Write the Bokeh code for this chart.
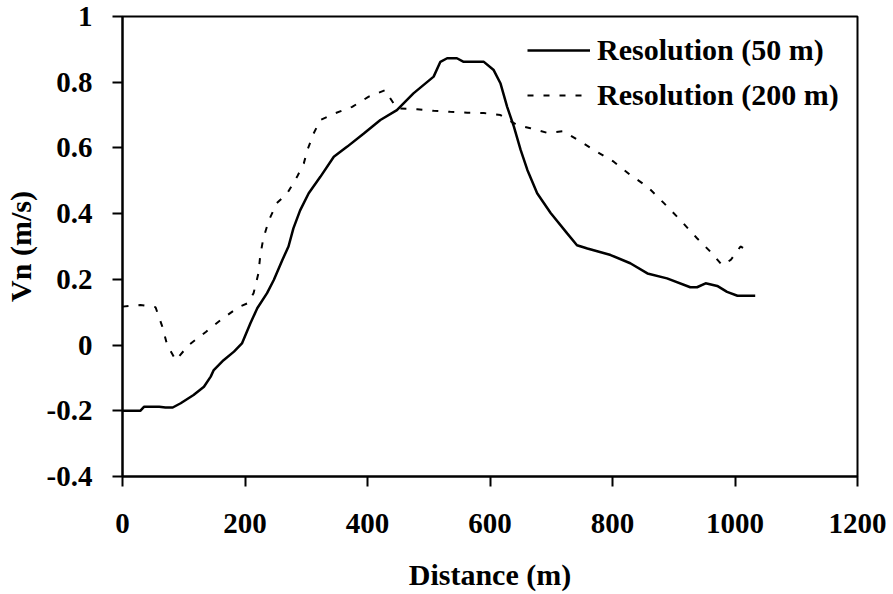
from bokeh.plotting import figure
from bokeh.models import Range1d, FixedTicker
from bokeh.embed import file_html
from bokeh.resources import INLINE

# Data
dist_50 = [0, 29, 35, 60, 70, 82, 95, 116, 133, 144, 149, 165, 182, 195, 209, 220,
           236, 247, 261, 271, 279, 290, 304, 323, 345, 367, 394, 421, 448, 475, 508,
           519, 530, 546, 557, 590, 606, 617, 628, 639, 650, 661, 677, 699, 726, 742,
           759, 797, 829, 857, 889, 927, 938, 952, 971, 987, 1004, 1033]
vn_50 = [-0.2, -0.2, -0.188, -0.188, -0.19, -0.19, -0.177, -0.152, -0.127, -0.096, -0.076,
         -0.046, -0.02, 0.005, 0.067, 0.112, 0.158, 0.198, 0.259, 0.3, 0.355, 0.41, 0.462,
         0.512, 0.573, 0.604, 0.644, 0.685, 0.715, 0.766, 0.817, 0.862, 0.873, 0.873,
         0.862, 0.862, 0.837, 0.797, 0.725, 0.665, 0.594, 0.533, 0.462, 0.402, 0.34,
         0.304, 0.294, 0.274, 0.249, 0.218, 0.203, 0.176, 0.176, 0.188, 0.18, 0.162,
         0.15, 0.15]

dist_200 = [0, 29, 54, 65, 73, 87, 108, 136, 160, 189, 204, 214, 222, 225, 230, 239, 252,
            269, 285, 296, 302, 312, 323, 348, 375, 402, 429, 434, 448, 481, 508, 535,
            563, 590, 617, 644, 666, 693, 720, 748, 775, 802, 829, 857, 884, 911, 938,
            960, 979, 993, 1009, 1014]
vn_200 = [0.117, 0.122, 0.115, 0.056, 0.0, -0.046, 0.0, 0.04, 0.076, 0.115, 0.127, 0.158,
          0.219, 0.274, 0.325, 0.38, 0.432, 0.462, 0.512, 0.553, 0.594, 0.644, 0.685,
          0.706, 0.725, 0.756, 0.776, 0.76, 0.72, 0.718, 0.713, 0.71, 0.707, 0.706, 0.7,
          0.67, 0.66, 0.646, 0.651, 0.619, 0.588, 0.558, 0.518, 0.482, 0.432, 0.38,
          0.325, 0.284, 0.243, 0.259, 0.3, 0.295]

x_ticks = [0, 200, 400, 600, 800, 1000, 1200]
y_ticks = [-0.4, -0.2, 0, 0.2, 0.4, 0.6, 0.8, 1]
y_tick_labels = ["-0.4", "-0.2", "0", "0.2", "0.4", "0.6", "0.8", "1"]

FONT = "Liberation Serif"

p = figure(width=893, height=594, output_backend="svg", toolbar_location=None,
           x_range=Range1d(0, 1200), y_range=Range1d(-0.4, 1))
p.min_border_left = 122
p.min_border_right = 36
p.min_border_top = 16
p.min_border_bottom = 118
p.background_fill_color = "white"
p.border_fill_color = "white"
p.outline_line_color = "black"
p.outline_line_width = 2
p.xgrid.visible = False
p.ygrid.visible = False

p.line(dist_50, vn_50, line_color="black", line_width=2.5, legend_label="Resolution (50 m)")
p.line(dist_200, vn_200, line_color="black", line_width=2, line_dash="6 10",
       legend_label="Resolution (200 m)")

for ax in (p.xaxis[0], p.yaxis[0]):
    ax.axis_line_width = 2
    ax.axis_line_color = "black"
    ax.major_tick_line_width = 2
    ax.major_tick_line_color = "black"
    ax.major_tick_out = 10
    ax.major_tick_in = 0
    ax.minor_tick_line_color = None
    ax.major_label_text_font = FONT
    ax.major_label_text_font_style = "bold"
    ax.major_label_text_font_size = "29px"
    ax.major_label_text_color = "black"
    ax.axis_label_text_font = FONT
    ax.axis_label_text_font_style = "bold"
    ax.axis_label_text_font_size = "30px"
    ax.axis_label_text_color = "black"

p.xaxis[0].ticker = FixedTicker(ticks=x_ticks)
p.yaxis[0].ticker = FixedTicker(ticks=y_ticks)
p.yaxis[0].major_label_overrides = {t: l for t, l in zip(y_ticks, y_tick_labels)}
p.xaxis[0].axis_label = "Distance (m)"
p.yaxis[0].axis_label = "Vn (m/s)"
p.xaxis[0].major_label_standoff = 27
p.yaxis[0].major_label_standoff = 20
p.xaxis[0].axis_label_standoff = 22
p.yaxis[0].axis_label_standoff = 7

lg = p.legend[0]
lg.location = (405, 362)
lg.margin = 0
lg.padding = 0
lg.spacing = 7
lg.glyph_width = 63
lg.glyph_height = 38
lg.label_height = 38
lg.label_standoff = 7
lg.border_line_color = None
lg.background_fill_alpha = 0
lg.label_text_font = FONT
lg.label_text_font_style = "bold"
lg.label_text_font_size = "30px"
lg.label_text_color = "black"

open("out.html", "w").write(file_html(p, INLINE))
